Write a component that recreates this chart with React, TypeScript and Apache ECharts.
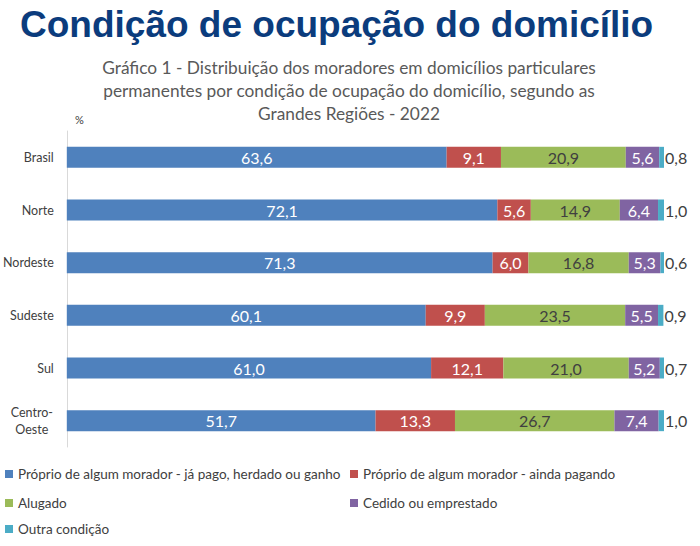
import React, { useEffect, useRef } from "react";
import * as echarts from "echarts";

const regions = ["Brasil", "Norte", "Nordeste", "Sudeste", "Sul", "Centro-Oeste"];
const seriesNames = [
  "Próprio de algum morador - já pago, herdado ou ganho",
  "Próprio de algum morador - ainda pagando",
  "Alugado",
  "Cedido ou emprestado",
  "Outra condição",
];
const proprioPago = [63.6, 72.1, 71.3, 60.1, 61.0, 51.7];
const proprioPagando = [9.1, 5.6, 6.0, 9.9, 12.1, 13.3];
const alugado = [20.9, 14.9, 16.8, 23.5, 21.0, 26.7];
const cedido = [5.6, 6.4, 5.3, 5.5, 5.2, 7.4];
const outra = [0.8, 1.0, 0.6, 0.9, 0.7, 1.0];

const colors = ["#4F81BD", "#C0504D", "#9BBB59", "#8064A2", "#4BACC6"];
const labelColors = ["#FFFFFF", "#FFFFFF", "#404040", "#FFFFFF", "#404040"];
const FONT = "Lato, 'Open Sans', sans-serif";

export default function App() {
  const ref = useRef<HTMLDivElement>(null);
  useEffect(() => {
    if (!ref.current) return;
    const chart = echarts.init(ref.current, null, { renderer: "svg" });
    const values = [proprioPago, proprioPagando, alugado, cedido, outra];
    const fmt = (p: any) => Number(p.value).toFixed(1).replace(".", ",");
    const legendPos = [
      { left: 5, top: 467 },
      { left: 350, top: 467 },
      { left: 5, top: 496 },
      { left: 350, top: 496 },
      { left: 5, top: 522 },
    ];
    chart.setOption({
      animation: false,
      title: [
        {
          text: "Condição de ocupação do domicílio",
          left: 15,
          top: 1,
          textStyle: {
            fontFamily: "'Liberation Sans', Arial, sans-serif",
            fontWeight: "bold",
            fontSize: 37,
            color: "#0B3C7D",
          },
        },
        {
          text:
            "Gráfico 1 - Distribuição dos moradores em domicílios particulares\npermanentes por condição de ocupação do domicílio, segundo as\nGrandes Regiões - 2022",
          left: 344,
          textAlign: "center",
          top: 51,
          textStyle: {
            fontFamily: FONT,
            fontWeight: "normal",
            fontSize: 17.3,
            lineHeight: 23,
            color: "#595959",
          },
        },
        {
          text: "%",
          left: 70,
          top: 109,
          textStyle: { fontFamily: FONT, fontWeight: "normal", fontSize: 11, color: "#404040" },
        },
      ],
      legend: seriesNames.map((n, i) => ({
        data: [n],
        left: legendPos[i].left,
        top: legendPos[i].top,
        itemWidth: 8,
        itemHeight: 8,
        itemGap: 4,
        icon: "rect",
        padding: 0,
        selectedMode: false,
        textStyle: { fontFamily: FONT, fontSize: 13.5, color: "#404040" },
      })),
      grid: { left: 66, right: 36, top: 131, bottom: 99, containLabel: false },
      xAxis: { type: "value", min: 0, max: 100, show: false },
      yAxis: {
        type: "category",
        data: regions,
        inverse: true,
        axisLine: { show: true, lineStyle: { color: "#D9D9D9", width: 1 } },
        axisTick: { show: false },
        axisLabel: {
          margin: 13,
          fontFamily: FONT,
          fontSize: 12.5,
          color: "#404040",
          formatter: (v: string) =>
            v === "Centro-Oeste" ? "{c|Centro-}\n{c|Oeste}" : "{n|" + v + "}",
          rich: {
            n: { fontFamily: FONT, fontSize: 12.5, color: "#404040" },
            c: { width: 44, align: "center", fontFamily: FONT, fontSize: 12.5, color: "#404040", lineHeight: 17 },
          },
        },
      },
      series: seriesNames.map((n, i) => ({
        name: n,
        type: "bar",
        stack: "total",
        barWidth: 21,
        data: values[i],
        itemStyle: { color: colors[i] },
        label: {
          show: true,
          position: i === 4 ? "right" : "inside",
          distance: 1,
          formatter: fmt,
          fontFamily: FONT,
          fontSize: 16,
          color: labelColors[i],
        },
      })),
    });
    return () => chart.dispose();
  }, []);
  return (
    <div
      ref={ref}
      style={{ position: "absolute", left: 0, top: 0, width: 700, height: 546 }}
    />
  );
}
